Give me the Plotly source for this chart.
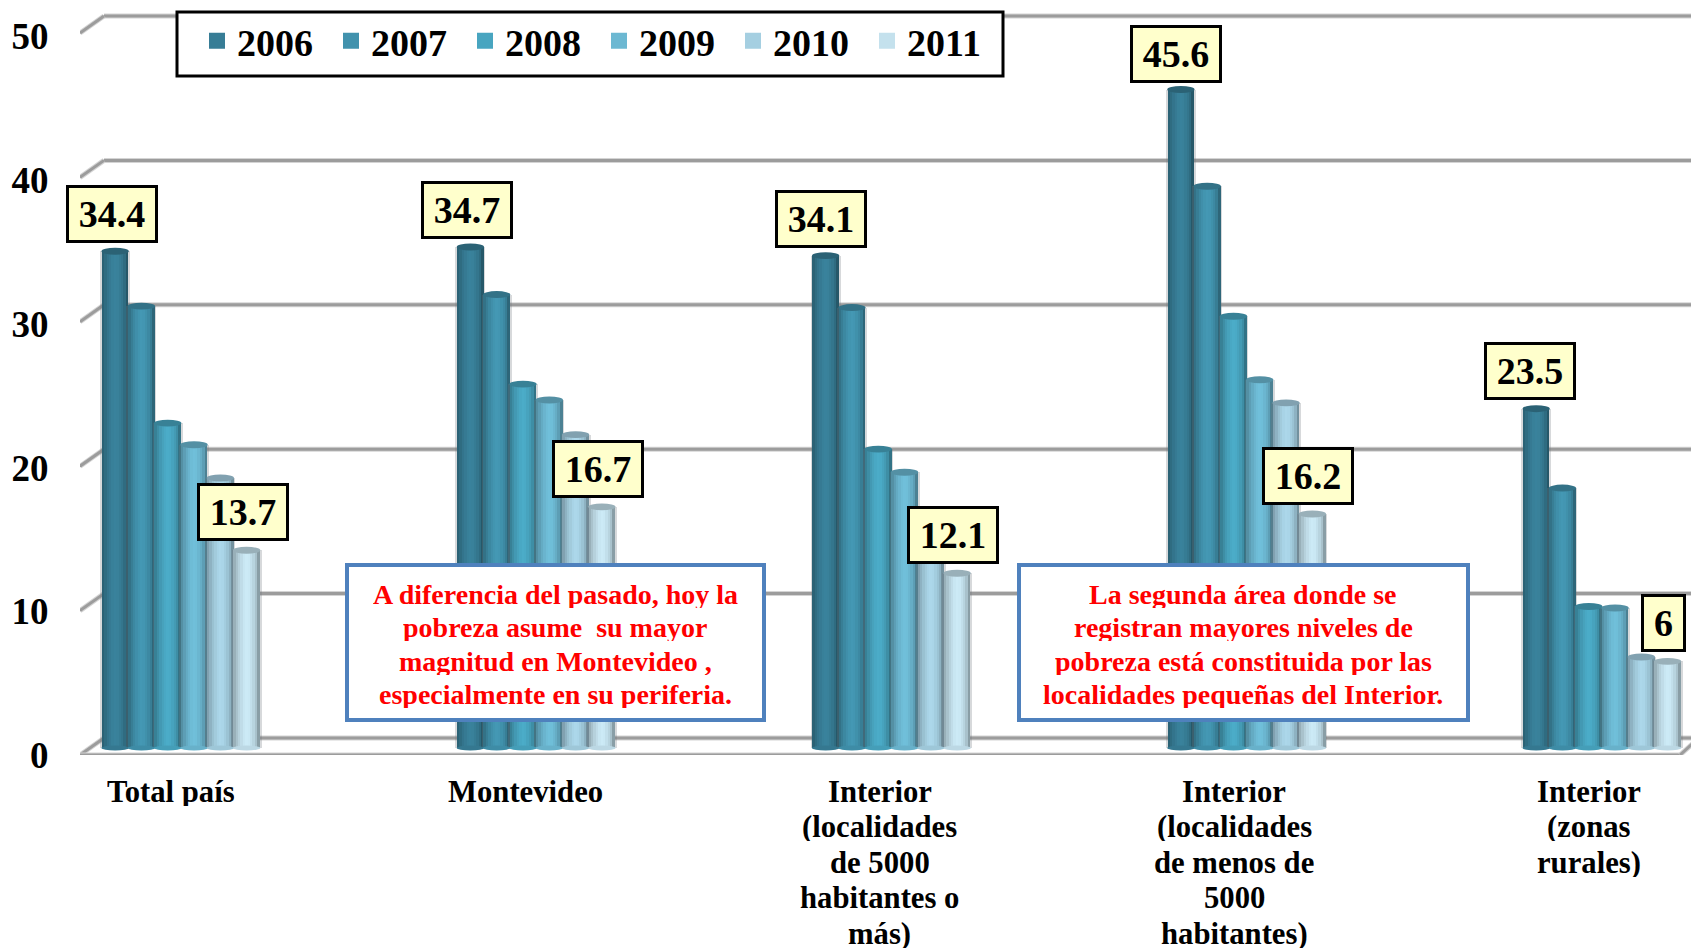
import plotly.graph_objects as go

years = ["2006", "2007", "2008", "2009", "2010", "2011"]
values_2006 = [34.4, 34.7, 34.1, 45.6, 23.5]
values_2007 = [30.6, 31.4, 30.5, 38.9, 18.0]
values_2008 = [22.5, 25.2, 20.7, 29.9, 9.8]
values_2009 = [21.0, 24.1, 19.1, 25.5, 9.7]
values_2010 = [18.7, 21.7, 14.5, 23.9, 6.3]
values_2011 = [13.7, 16.7, 12.1, 16.2, 6.0]
series = [values_2006, values_2007, values_2008, values_2009, values_2010, values_2011]
colors = ["#377d96", "#4192ad", "#48a5c0", "#6cb8d2", "#a5cfe1", "#c4e1ed"]
categories = [
    ["Total país"],
    ["Montevideo"],
    ["Interior", "(localidades", "de 5000", "habitantes o", "más)"],
    ["Interior", "(localidades", "de menos de", "5000", "habitantes)"],
    ["Interior", "(zonas", "rurales)"],
]
y_ticks = [0, 10, 20, 30, 40, 50]
first_labels = ["34.4", "34.7", "34.1", "45.6", "23.5"]
last_labels = ["13.7", "16.7", "12.1", "16.2", "6"]
note_1 = ["A diferencia del pasado, hoy la", "pobreza asume  su mayor",
          "magnitud en Montevideo ,", "especialmente en su periferia."]
note_2 = ["La segunda área donde se", "registran mayores niveles de",
          "pobreza está constituida por las", "localidades pequeñas del Interior."]

W, H = 1691, 948
LEFT, FRONT0 = 80, 755
PPU = 14.44            # pixels per unit
TICK_PPU = 14.37
GROUP = 355.25         # pixels per group
G0 = 180.9
BARW = 26.3
BAR_ZERO = 748
BACK_ZERO = 738
SERIF = "Liberation Serif"
GRID = "#9c9c9c"
GRID_SOFT = "#d4d4d4"


def xd(px):
    return (px - G0) / GROUP


def pxp(px):
    return (px - LEFT) / (W - LEFT)


def pyp(py):
    return 1 - py / FRONT0


w = BARW / GROUP
groups = list(range(len(categories)))
shade = [0.78, 0.86, 0.93, 0.98, 1.02, 1.04, 1.03, 0.99, 0.94, 0.86, 0.70]


def tint(hexc, f):
    c = [int(hexc[i:i + 2], 16) for i in (1, 3, 5)]
    return "rgb(%d,%d,%d)" % tuple(min(255, round(v * f)) for v in c)


fig = go.Figure()
shapes = []
annotations = []

depth = (FRONT0 - BACK_ZERO) / PPU


def wall_line(x0, x1, y0, y1):
    for col, wd in ((GRID_SOFT, 5), (GRID, 3)):
        shapes.append(dict(type="line", xref="x", yref="y3", x0=xd(x0), x1=xd(x1), y0=y0, y1=y1,
                           line=dict(color=col, width=wd), layer="below"))


for t in y_ticks:
    wall_line(104, W + 5, t, t)
    wall_line(80, 104, t - depth, t)
wall_line(80, 1680, -depth, -depth)
wall_line(1680, W + 5, -depth, -depth + 1.0)

# legend entries
for name, col in zip(years, colors):
    fig.add_trace(go.Scatter(x=[None], y=[None], mode="markers", name=name, legendgroup=name,
                             marker=dict(symbol="square", size=16, color=col)))

# cylinders built from strips
for j, (vals, col) in enumerate(zip(series, colors)):
    off = (j - 2.5) * w
    fig.add_trace(go.Bar(x=[g + off for g in groups], y=vals, width=w * 1.14, yaxis="y2",
                         marker=dict(color="rgba(110,120,125,0.28)", line=dict(width=0)),
                         showlegend=False, hoverinfo="skip"))
    n = len(shade)
    sw = w / n
    for k, f in enumerate(shade):
        fig.add_trace(go.Bar(x=[g + off + (k - (n - 1) / 2) * sw for g in groups], y=vals,
                             width=sw * 1.15, yaxis="y2", name=years[j],
                             marker=dict(color=tint(col, f), line=dict(width=0)),
                             showlegend=False, hoverinfo="skip"))
    for g, v in zip(groups, vals):
        x0, x1 = g + off - w * 0.52, g + off + w * 0.52
        shapes.append(dict(type="circle", xref="x", yref="y2", x0=x0, x1=x1, y0=v - 0.24, y1=v + 0.24,
                           fillcolor=tint(col, 0.78), line=dict(width=0)))
        shapes.append(dict(type="circle", xref="x", yref="y2", x0=x0, x1=x1, y0=-0.17, y1=0.17,
                           fillcolor=tint(col, 0.96), line=dict(width=0)))


# value labels
def value_box(g, j, val, text, xshift, yshift):
    annotations.append(dict(x=g + (j - 2.5) * w, y=val, xref="x", yref="y2", yanchor="bottom",
                            xanchor="center", xshift=xshift, yshift=yshift, text=text, showarrow=False,
                            font=dict(family=SERIF, size=38, color="black", weight=700),
                            bgcolor="#ffffcc", bordercolor="black", borderwidth=3, borderpad=0,
                            width=86 if len(text) > 1 else 39, height=52, align="center", valign="middle"))


first_dx = [-3, -3, -5, -5, -6]
first_dy = [8, 8, 8, 7, 9]
for g in groups:
    value_box(g, 0, series[0][g], first_labels[g], first_dx[g], first_dy[g])
    value_box(g, 5, series[5][g], last_labels[g], -4, 9)

# category labels, one line at a time
for g, lines in zip(groups, categories):
    for i, line in enumerate(lines):
        annotations.append(dict(x=g, xref="x", xshift=-10 - g * 0.8, y=pyp(792 + i * 35.4), yref="paper",
                                yanchor="middle", xanchor="center", text=line, showarrow=False, height=28,
                                font=dict(family=SERIF, size=30.7, color="black", weight=700)))

# note boxes
for (x0, x1, cx, note) in [(347, 764, 555, note_1), (1019, 1468, 1243, note_2)]:
    shapes.append(dict(type="rect", xref="paper", yref="paper", x0=pxp(x0), x1=pxp(x1),
                       y0=pyp(720), y1=pyp(565), fillcolor="white", line=dict(color="#4f81bd", width=4)))
    for i, line in enumerate(note):
        annotations.append(dict(x=pxp(cx), xref="paper", y=pyp(594 + i * 33.4), yref="paper",
                                yanchor="middle", xanchor="center", text=line, showarrow=False, height=28,
                                font=dict(family=SERIF, size=28, color="#ff0000", weight=700)))

# legend frame
shapes.append(dict(type="rect", xref="paper", yref="paper", x0=pxp(177), x1=pxp(1003), y0=pyp(76), y1=pyp(12),
                   fillcolor="white", line=dict(color="black", width=3)))

fig.update_layout(
    width=W, height=H, autosize=False, barmode="overlay", bargap=0,
    paper_bgcolor="white", plot_bgcolor="white",
    margin=dict(l=LEFT, r=0, t=0, b=H - FRONT0, pad=0),
    showlegend=True,
    legend=dict(orientation="h", x=pxp(197), xanchor="left", y=pyp(41), yanchor="middle",
                bgcolor="rgba(0,0,0,0)", borderwidth=0, entrywidth=89, entrywidthmode="pixels",
                font=dict(family=SERIF, size=38, color="black", weight=700), traceorder="normal"),
    xaxis=dict(range=[xd(LEFT), xd(W)], visible=False, fixedrange=True),
    yaxis=dict(range=[0, FRONT0 / TICK_PPU], tickmode="array", tickvals=y_ticks, ticktext=[str(t) for t in y_ticks],
               showgrid=False, zeroline=False, showline=False, ticks="outside", ticklen=23,
               tickcolor="rgba(0,0,0,0)", tickfont=dict(family=SERIF, size=37, color="black", weight=700),
               fixedrange=True),
    yaxis2=dict(range=[-(FRONT0 - BAR_ZERO) / PPU, BAR_ZERO / PPU], overlaying="y", visible=False, fixedrange=True),
    yaxis3=dict(range=[-depth, BACK_ZERO / PPU], overlaying="y", visible=False, fixedrange=True),
    shapes=shapes,
    annotations=annotations,
)
fig.write_html("out.html", post_script="document.body.style.margin='0';document.body.style.overflow='hidden';",
               config={"displayModeBar": False})
